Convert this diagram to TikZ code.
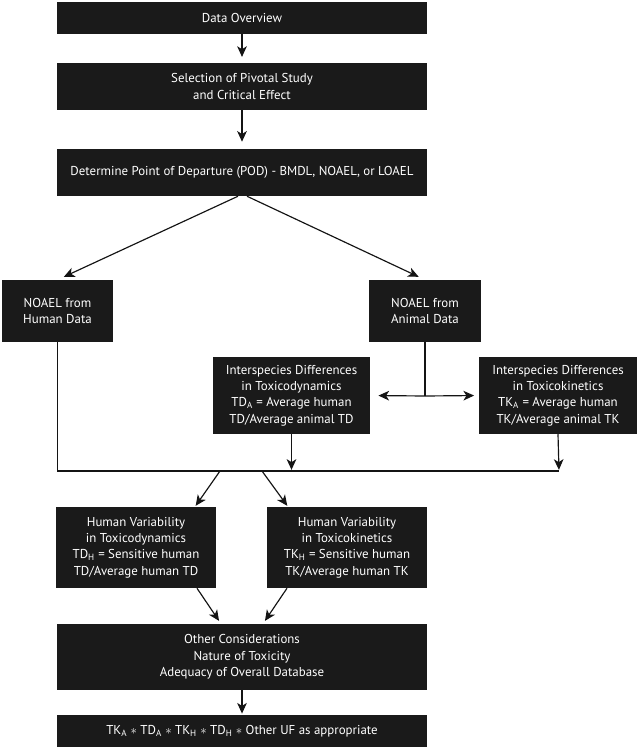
\documentclass[tikz,border=0pt]{standalone}
\usepackage{fontspec}
\setmainfont{PT Sans}
\usepackage{xcolor}
\usepackage{tikz}
\usetikzlibrary{calc, positioning, arrows.meta}
\definecolor{boxfill}{RGB}{26, 26, 26}
\definecolor{linecol}{RGB}{20, 20, 20}

\tikzset{
  blackbox/.style={fill=boxfill, text=white, align=center, inner sep=0pt,
                   font=\fontsize{11}{14}\selectfont},
  widebox/.style={blackbox, minimum width=11.1cm},
  flow/.style={draw=linecol, line width=1pt, shorten >=2pt,
               -{Stealth[length=3.2mm, width=2.9mm, inset=0.9mm]}},
  busline/.style={draw=linecol, line width=1pt}
}

\begin{document}
\begin{tikzpicture}[x=0.03cm, y=-0.03cm]
  \useasboundingbox (0,0) rectangle (640,750);

  % main column
  \node[widebox, minimum height=0.96cm] (overview) at (242,18)
       {Data Overview};
  \node[widebox, minimum height=1.41cm] (pivotal) at (242,86.5)
       {Selection of Pivotal Study\\and Critical Effect};
  \node[widebox, minimum height=1.41cm] (pod) at (242,172.5)
       {Determine Point of Departure (POD) - BMDL, NOAEL, or LOAEL};

  % NOAEL sources
  \node[blackbox, minimum width=3.33cm, minimum height=1.86cm] (nhuman) at (57.5,311)
       {NOAEL from\\Human Data};
  \node[blackbox, minimum width=3.36cm, minimum height=1.86cm] (nanimal) at (425,311)
       {NOAEL from\\Animal Data};

  % interspecies
  \node[blackbox, minimum width=4.71cm, minimum height=2.31cm] (itd) at (291.5,395.5)
       {Interspecies Differences\\in Toxicodynamics\\TD\textsubscript{A} = Average human\\TD/Average animal TD};
  \node[blackbox, minimum width=4.74cm, minimum height=2.31cm] (itk) at (558,395.5)
       {Interspecies Differences\\in Toxicokinetics\\TK\textsubscript{A} = Average human\\TK/Average animal TK};

  % human variability
  \node[blackbox, minimum width=4.8cm, minimum height=2.43cm] (hvtd) at (136,547.5)
       {Human Variability\\in Toxicodynamics\\TD\textsubscript{H} = Sensitive human\\TD/Average human TD};
  \node[blackbox, minimum width=4.8cm, minimum height=2.43cm] (hvtk) at (347,547.5)
       {Human Variability\\in Toxicokinetics\\TK\textsubscript{H} = Sensitive human\\TK/Average human TK};

  \node[widebox, minimum height=1.98cm] (other) at (242,657)
       {Other Considerations\\Nature of Toxicity\\Adequacy of Overall Database};
  \node[widebox, minimum height=0.96cm] (final) at (242,731)
       {TK\textsubscript{A} $\ast$ TD\textsubscript{A} $\ast$ TK\textsubscript{H} $\ast$ TD\textsubscript{H} $\ast$ Other UF as appropriate};

  \coordinate (split) at (425,396);
  \coordinate (busend) at (559,471);
  \coordinate (busl) at (220,471);
  \coordinate (busr) at (262,471);

  \draw[flow, shorten >=5pt] (overview) -- (pivotal);
  \draw[flow, shorten >=6pt] (pivotal) -- (pod);
  \draw[flow, shorten >=6pt] ($(pod.south)+(-4,0)$) -- (nhuman.north);
  \draw[flow, shorten >=6pt] ($(pod.south)+(5,0)$) -- (nanimal.north);

  \draw[busline] (nanimal.south) -- (split);
  \draw[flow, shorten >=7pt] (split) -- (itd.east);
  \draw[flow, shorten >=4pt] (split) -- (itk.west);

  \draw[busline] (nhuman.south) |- (busend);
  \draw[flow, shorten >=1pt] (itd.south) -- (itd.south |- busend);
  \draw[flow, shorten >=1pt] (itk.south) -- (busend);

  \draw[flow, shorten >=1pt] (busl) -- ($(hvtd.north)+(59,0)$);
  \draw[flow, shorten >=1pt] (busr) -- ($(hvtk.north)+(-59,0)$);
  \draw[flow, shorten >=3pt] ($(hvtd.south)+(61,0)$) -- ($(other.north)+(-21,0)$);
  \draw[flow, shorten >=3pt] ($(hvtk.south)+(-60,0)$) -- ($(other.north)+(21,0)$);
  \draw[flow, shorten >=1pt] (other) -- (final);
\end{tikzpicture}
\end{document}
